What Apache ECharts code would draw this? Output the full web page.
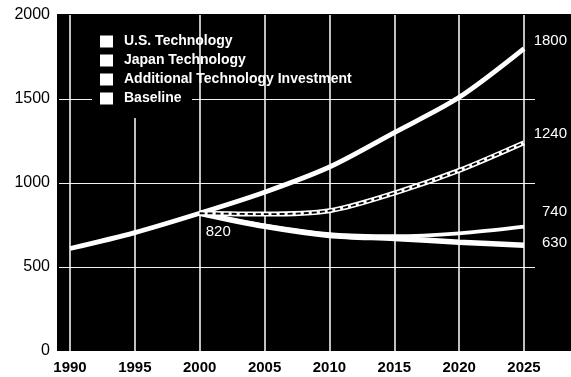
<!DOCTYPE html>
<html>
<head>
<meta charset="utf-8">
<script src="https://cdn.jsdelivr.net/npm/echarts@6/dist/echarts.min.js"></script>
<style>
  html, body { margin: 0; padding: 0; background: #fff; }
  #chart { width: 571px; height: 377px; }
</style>
</head>
<body>
<div id="chart"></div>
<script>
// Projected values, 1990-2025
const years = [1990, 1995, 2000, 2005, 2010, 2015, 2020, 2025];
const usTech = [610, 705, 820, 945, 1095, 1300, 1510, 1800];

// Scenarios branching off after 2000
const branchYears = [2000, 2005, 2010, 2015, 2020, 2025];
const additionalInvest = [820, 815, 835, 940, 1075, 1240];
const japanTech = [820, 748, 695, 683, 700, 740];
const baseline = [820, 742, 688, 670, 648, 630];

// Axis labels
const xTicks = [1990, 1995, 2000, 2005, 2010, 2015, 2020, 2025];
const yTicks = [0, 500, 1000, 1500, 2000];
const yGrid = [500, 1000, 1500];

const legendNames = ['U.S. Technology', 'Japan Technology', 'Additional Technology Investment', 'Baseline'];

const FONT = "'Liberation Sans', Arial, Helvetica, sans-serif";

function pairs(xs, ys) {
  return xs.map((x, i) => [x, ys[i]]);
}

// Value label placed at the last point of a series
function endValue(xs, ys, dx, dy) {
  const i = ys.length - 1;
  return {
    symbol: 'circle',
    symbolSize: 0,
    silent: true,
    label: {
      show: true,
      formatter: '{c}',
      color: '#fff',
      fontFamily: FONT,
      fontSize: 15,
      align: 'right',
      verticalAlign: 'middle',
      offset: [dx, dy]
    },
    data: [{ coord: [xs[i], ys[i]], value: ys[i] }]
  };
}

function whiteLine(name, xs, ys, width, dx, dy, extra) {
  return Object.assign({
    name: name,
    type: 'line',
    data: pairs(xs, ys),
    smooth: 0.3,
    symbol: 'none',
    z: 3,
    itemStyle: { color: '#fff' },
    lineStyle: { color: '#fff', width: width },
    markPoint: endValue(xs, ys, dx, dy)
  }, extra || {});
}

const chart = echarts.init(document.getElementById('chart'), null, { renderer: 'canvas' });

chart.setOption({
  animation: false,
  backgroundColor: '#fff',
  graphic: [
    { type: 'rect', silent: true, z: -10, shape: { x: 57, y: 14, width: 514, height: 337 }, style: { fill: '#000' } },
    { type: 'rect', silent: true, z: 1, shape: { x: 92, y: 14, width: 100, height: 104 }, style: { fill: '#000' } }
  ],
  grid: { left: 59, right: 36, top: 15, bottom: 26, outerBoundsMode: 'none' },
  legend: {
    orient: 'vertical',
    left: 100,
    top: 34,
    padding: 0,
    z: 5,
    icon: 'rect',
    itemWidth: 13,
    itemHeight: 12,
    itemGap: 4,
    selectedMode: false,
    data: legendNames.map(n => ({ name: n, itemStyle: { color: '#fff' } })),
    textStyle: {
      color: '#fff',
      fontFamily: FONT,
      fontWeight: 'bold',
      fontSize: 14,
      lineHeight: 15,
      padding: [0, 0, 0, 6]
    }
  },
  xAxis: {
    type: 'value',
    min: 1989.152,
    max: 2025.848,
    axisLine: { show: false },
    axisTick: { show: false, customValues: xTicks },
    axisLabel: {
      customValues: xTicks,
      formatter: v => String(v),
      color: '#000',
      fontFamily: FONT,
      fontWeight: 'bold',
      fontSize: 15,
      margin: 9
    },
    splitLine: { show: true, lineStyle: { color: '#fff', width: 1.5 } }
  },
  yAxis: {
    type: 'value',
    min: 0,
    max: 2000,
    axisLine: { show: false },
    axisTick: { show: false, customValues: yGrid },
    axisLabel: {
      customValues: yTicks,
      formatter: v => String(v),
      color: '#000',
      fontFamily: FONT,
      fontSize: 16,
      margin: 9
    },
    splitLine: { show: true, lineStyle: { color: '#f2f2f2', width: 1 } }
  },
  series: [
    whiteLine('Baseline', branchYears, baseline, 5.5, 43, -2, {
      markPoint: {
        symbol: 'circle',
        symbolSize: 0,
        silent: true,
        label: {
          show: true, formatter: '{c}', color: '#fff', fontFamily: FONT, fontSize: 15,
          verticalAlign: 'middle'
        },
        data: [
          {
            coord: [branchYears[0], baseline[0]], value: baseline[0],
            label: { align: 'left', offset: [6, 19] }
          },
          {
            coord: [branchYears[branchYears.length - 1], baseline[baseline.length - 1]],
            value: baseline[baseline.length - 1],
            label: { align: 'right', offset: [43, -2] }
          }
        ]
      }
    }),
    whiteLine('Japan Technology', branchYears, japanTech, 3.8, 43, -15),
    whiteLine('Additional Technology Investment', branchYears, additionalInvest, 5, 43, -9),
    {
      name: 'Additional Technology Investment dashes',
      type: 'line',
      data: pairs(branchYears, additionalInvest),
      smooth: 0.3,
      symbol: 'none',
      z: 4,
      itemStyle: { color: '#000' },
      lineStyle: { color: '#000', width: 1.8, type: [5, 3] }
    },
    whiteLine('U.S. Technology', years, usTech, 4.8, 43, -8)
  ]
});
</script>
</body>
</html>
